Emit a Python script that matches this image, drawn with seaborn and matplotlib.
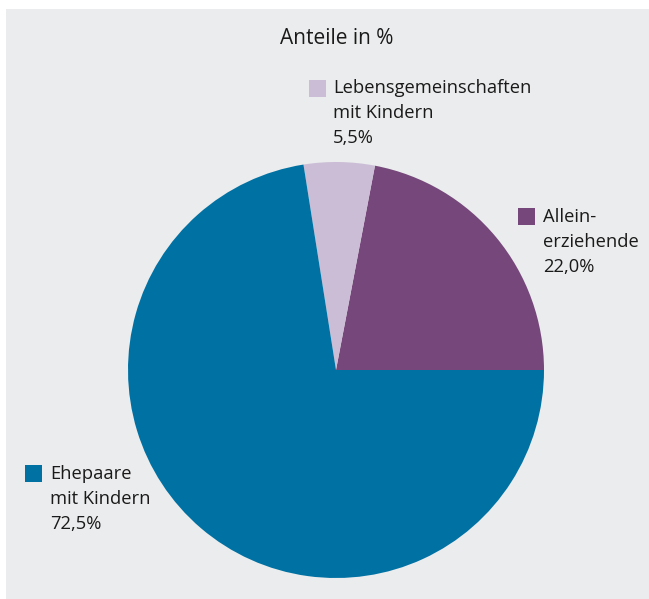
import matplotlib
matplotlib.use("Agg")
import matplotlib.pyplot as plt
from matplotlib.patches import Rectangle
import seaborn as sns

sns.set_theme(style="white")
plt.rcParams['font.family'] = ['Open Sans', 'DejaVu Sans']

title = "Anteile in %"
categories = ["Allein-\nerziehende", "Lebensgemeinschaften\nmit Kindern", "Ehepaare\nmit Kindern"]
values = [22.0, 5.5, 72.5]
colors = ["#76477a", "#cbbdd6", "#0071a3"]
bg = "#ebeced"

W, H = 649, 599
fig = plt.figure(figsize=(W / 100, H / 100), dpi=100, facecolor="white")

def fx(x):
    return x / W

def fy(y):
    return 1 - y / H

fig.patches.append(Rectangle((fx(6), 0), 1 - fx(6), fy(9), transform=fig.transFigure,
                             facecolor=bg, edgecolor="none", zorder=-10))

ax = fig.add_axes([fx(128), fy(578), 416 / W, 416 / H], zorder=5)
ax.set_facecolor("none")
ax.pie(values, colors=colors, startangle=0, counterclock=True, radius=1,
       wedgeprops=dict(linewidth=0))
ax.set_xlim(-1, 1)
ax.set_ylim(-1, 1)
ax.set_aspect("auto")
ax.axis("off")

fig.text(fx(337), fy(39), title, ha="center", va="center", fontsize=15, color="#1a1a1a")

# legend-like labels: (square x, square y top, text x, text top)
label_pos = [(518, 208, 543, 208), (309, 80, 333, 79), (25, 465, 50, 465)]
for (sx, sy, tx, ty), cat, val, col in zip(label_pos, categories, values, colors):
    fig.patches.append(Rectangle((fx(sx), fy(sy + 17)), 17 / W, 17 / H,
                                 transform=fig.transFigure, facecolor=col,
                                 edgecolor="none"))
    txt = f"{cat}\n{val:.1f}%".replace(".", ",")
    fig.text(fx(tx), fy(ty), txt, ha="left", va="top", fontsize=13.2,
             color="#1a1a1a", linespacing=1.5)

fig.savefig("out.png", dpi=100, facecolor="white")
